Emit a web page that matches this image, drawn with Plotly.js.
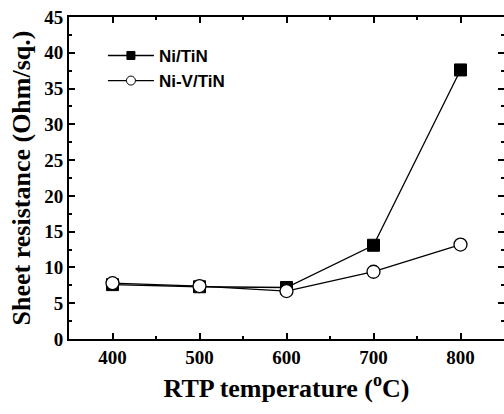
<!DOCTYPE html>
<html><head><meta charset="utf-8">
<script src="https://cdn.plot.ly/plotly-3.0.1.min.js"></script>
<style>html,body{margin:0;padding:0;background:#fff}</style>
</head><body>
<div id="chart" style="width:504px;height:414px"></div>
<script>
const temps = [400, 500, 600, 700, 800];
const niTiN = [7.6, 7.3, 7.2, 13.1, 37.6];
const niVTiN = [7.8, 7.4, 6.7, 9.4, 13.2];
const seriesNames = ['Ni/TiN', 'Ni-V/TiN'];
const yTicks = [0, 5, 10, 15, 20, 25, 30, 35, 40, 45];

const lineStyle = {color: '#000', width: 1.3};
const traces = [
  {x: temps, y: niTiN, name: seriesNames[0], mode: 'lines+markers', type: 'scatter', showlegend: false,
   line: lineStyle,
   marker: {symbol: 'square', size: 12, color: '#000', line: {color: '#000', width: 1}}},
  {x: temps, y: niVTiN, name: seriesNames[1], mode: 'lines+markers', type: 'scatter', showlegend: false,
   line: lineStyle,
   marker: {symbol: 'circle', size: 13, color: '#fff', line: {color: '#000', width: 1.3}}},
  // legend-only entries (no data) with the smaller legend symbols of the reference
  {x: [null], y: [null], name: seriesNames[0], mode: 'lines+markers', type: 'scatter',
   line: lineStyle, marker: {symbol: 'square', size: 8, color: '#000', line: {color: '#000', width: 1}}},
  {x: [null], y: [null], name: seriesNames[1], mode: 'lines+markers', type: 'scatter',
   line: lineStyle, marker: {symbol: 'circle', size: 9, color: '#fff', line: {color: '#000', width: 1}}}
];

const serif = 'Liberation Serif, Times New Roman, serif';
const tickFont = {family: serif, size: 19, color: '#000', weight: 'bold'};
const titleFont = {family: serif, size: 26, color: '#000', weight: 'bold'};

const layout = {
  width: 504, height: 414,
  margin: {l: 69, r: 0, t: 17, b: 75},
  paper_bgcolor: '#fff', plot_bgcolor: '#fff',
  showlegend: true,
  legend: {x: 0.078, y: 0.935, xanchor: 'left', yanchor: 'top', bgcolor: 'rgba(0,0,0,0)',
           font: {family: 'Liberation Sans, Arial, sans-serif', size: 17, color: '#000', weight: 'bold'},
           itemwidth: 46, tracegroupgap: 0, traceorder: 'normal'},
  xaxis: {range: [350, 850], tickvals: temps, ticktext: temps.map(v => '<b>' + v + '</b>'),
          ticks: 'inside', ticklen: 6, tickwidth: 2, tickcolor: '#000',
          showline: true, linewidth: 2, linecolor: '#000', mirror: 'allticks',
          showgrid: false, zeroline: false, tickfont: tickFont,
          minor: {dtick: 50, ticks: 'inside', ticklen: 3, tickwidth: 2, tickcolor: '#000', showgrid: false},
          title: {text: '<b>RTP temperature (<sup>o</sup>C)</b>', font: titleFont, standoff: 12}},
  yaxis: {range: [0, 45], tickvals: yTicks, ticktext: yTicks.map(v => '<b>' + v + '</b>'),
          ticks: 'inside', ticklen: 6, tickwidth: 2, tickcolor: '#000',
          showline: true, linewidth: 2, linecolor: '#000', mirror: 'allticks',
          showgrid: false, zeroline: false, tickfont: tickFont,
          minor: {dtick: 2.5, ticks: 'inside', ticklen: 3, tickwidth: 2, tickcolor: '#000', showgrid: false},
          title: {text: '<b>Sheet resistance (Ohm/sq.)</b>', font: titleFont, standoff: 6}}
};

Plotly.newPlot('chart', traces, layout, {displayModeBar: false, staticPlot: true});
</script>
</body></html>
